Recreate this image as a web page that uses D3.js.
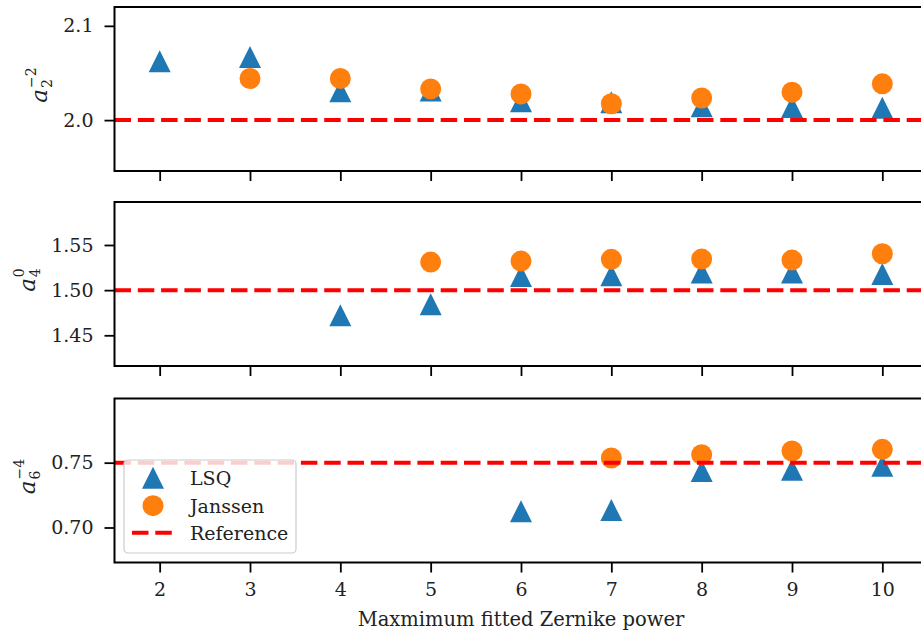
<!DOCTYPE html>
<html>
<head>
<meta charset="utf-8">
<script src="https://cdn.jsdelivr.net/npm/d3@7"></script>
<style>
  html, body { margin: 0; padding: 0; background: #fff; }
  svg { display: block; overflow: hidden; }
  text { font-family: "DejaVu Serif", serif; fill: #222; }
</style>
</head>
<body>
<svg id="chart" width="921" height="636"></svg>
<script>
// Maximum fitted Zernike power (shared x axis)
const powers = [2, 3, 4, 5, 6, 7, 8, 9, 10];

// Coefficient a_2^{-2}
const a2m2LSQ     = [2.0625, 2.0669, 2.0306, 2.0313, 2.0199, 2.0190, 2.0146, 2.0139, 2.0131];
const a2m2Janssen = [null,   2.0441, 2.0441, 2.0331, 2.0278, 2.0174, 2.0235, 2.0295, 2.0385];

// Coefficient a_4^{0}
const a40LSQ      = [null, null, 1.4722, 1.4844, 1.5157, 1.5165, 1.5194, 1.5194, 1.5178];
const a40Janssen  = [null, null, null,   1.5311, 1.5322, 1.5341, 1.5344, 1.5333, 1.5403];

// Coefficient a_6^{-4}
const a6m4LSQ     = [null, null, null, null, 0.7125, 0.7134, 0.7436, 0.7446, 0.7477];
const a6m4Janssen = [null, null, null, null, null,   0.7536, 0.7562, 0.7590, 0.7603];

// True coefficient values
const referenceValues = [2.0, 1.5, 0.75];

// Axis limits and ticks per panel
const yDomains = [[1.946, 2.120], [1.416, 1.5976], [0.673, 0.7995]];
const yTicks   = [[2.0, 2.1], [1.45, 1.50, 1.55], [0.70, 0.75]];
const yFormats = [".1f", ".2f", ".2f"];
const labelSub = ["2", "4", "6"];
const labelSup = ["\u22122", "0", "\u22124"];

const legendLabels = ["LSQ", "Janssen", "Reference"];
const xLabel = "Maxmimum fitted Zernike power";

const colors = { lsq: "#1f77b4", janssen: "#ff7f0e", ref: "#ff0000" };

const svg = d3.select("#chart");

const left = 114.5, right = 927.5;
const panelTops = [7, 202, 398.5];
const panelHeight = 164;
const markerSize = 22;

const x = d3.scaleLinear().domain([1.5, 10.5]).range([left, right]);

const panels = [
  { lsq: a2m2LSQ, jan: a2m2Janssen },
  { lsq: a40LSQ,  jan: a40Janssen },
  { lsq: a6m4LSQ, jan: a6m4Janssen }
];

function trianglePath(s) {
  const h = s / 2;
  return `M0,${-h}L${-h},${h}L${h},${h}Z`;
}

panels.forEach((p, i) => {
  const top = panelTops[i], bottom = top + panelHeight;
  const y = d3.scaleLinear().domain(yDomains[i]).range([bottom, top]);
  const g = svg.append("g");

  // clip to axes area
  const clipId = "clip" + i;
  svg.append("clipPath").attr("id", clipId)
    .append("rect").attr("x", left).attr("y", top)
    .attr("width", right - left).attr("height", panelHeight);

  const plot = g.append("g").attr("clip-path", `url(#${clipId})`);

  // LSQ triangles
  const lsqPts = powers.map((v, k) => ({ x: v, y: p.lsq[k] })).filter(d => d.y != null);
  plot.selectAll("path.lsq").data(lsqPts).join("path")
    .attr("class", "lsq")
    .attr("d", trianglePath(markerSize))
    .attr("transform", d => `translate(${x(d.x)},${y(d.y)})`)
    .attr("fill", colors.lsq);

  // Janssen circles
  const janPts = powers.map((v, k) => ({ x: v, y: p.jan[k] })).filter(d => d.y != null);
  plot.selectAll("circle.jan").data(janPts).join("circle")
    .attr("class", "jan")
    .attr("cx", d => x(d.x)).attr("cy", d => y(d.y))
    .attr("r", markerSize / 2 - 0.5)
    .attr("fill", colors.janssen);

  // Reference line
  plot.append("line")
    .attr("x1", left).attr("x2", right)
    .attr("y1", y(referenceValues[i])).attr("y2", y(referenceValues[i]))
    .attr("stroke", colors.ref).attr("stroke-width", 4)
    .attr("stroke-dasharray", "16.5,6.8");

  // y axis
  const yAxis = d3.axisLeft(y).tickValues(yTicks[i]).tickFormat(d3.format(yFormats[i]))
    .tickSize(10).tickPadding(11);
  const yg = g.append("g").attr("transform", `translate(${left},0)`).call(yAxis);
  yg.select(".domain").remove();
  yg.selectAll(".tick line").attr("stroke", "#000").attr("stroke-width", 1.8);
  yg.selectAll(".tick text").attr("font-size", 19).attr("font-family", "DejaVu Serif").attr("fill", "#222");

  // x axis
  const xAxis = d3.axisBottom(x).tickValues(powers).tickFormat(i === 2 ? d3.format("d") : () => "")
    .tickSize(10).tickPadding(10);
  const xg = g.append("g").attr("transform", `translate(0,${bottom})`).call(xAxis);
  xg.select(".domain").remove();
  xg.selectAll(".tick line").attr("stroke", "#000").attr("stroke-width", 1.8);
  xg.selectAll(".tick text").attr("font-size", 19).attr("font-family", "DejaVu Serif").attr("fill", "#222");

  // frame
  g.append("rect").attr("x", left).attr("y", top)
    .attr("width", right - left).attr("height", panelHeight)
    .attr("fill", "none").attr("stroke", "#000").attr("stroke-width", 2);

  // y label a_n^m, rotated
  const outer = g.append("g");
  const lab = outer.append("g");
  const t = lab.append("text").attr("x", 0).attr("y", 0)
    .attr("font-size", 23).attr("font-style", "italic").text("a");
  const aw = t.node().getComputedTextLength();
  lab.append("text").attr("x", aw + 1).attr("y", 5)
    .attr("font-size", 14).text(labelSub[i]);
  lab.append("text").attr("x", aw + 1).attr("y", -11)
    .attr("font-size", 14).text(labelSup[i]);
  lab.attr("transform", "rotate(-90)");
  const tickBox = yg.node().getBBox();
  const lb = outer.node().getBBox();
  const cy = (top + bottom) / 2 - 4;
  const dx = (left + tickBox.x) - 8 - (lb.x + lb.width);
  const dy = cy - (lb.y + lb.height / 2);
  outer.attr("transform", `translate(${dx},${dy})`);

  // legend in the bottom panel
  if (i === 2) {
    const lg = svg.append("g").attr("transform", "translate(124,460)");
    lg.append("rect").attr("width", 172).attr("height", 93).attr("rx", 4)
      .attr("fill", "#fff").attr("fill-opacity", 0.8)
      .attr("stroke", "#cccccc").attr("stroke-width", 1.2);
    const rows = [17.7, 45.7, 72.7];
    lg.append("path").attr("d", trianglePath(markerSize))
      .attr("transform", `translate(29,${rows[0]})`).attr("fill", colors.lsq);
    lg.append("circle").attr("cx", 29).attr("cy", rows[1]).attr("r", markerSize / 2 - 0.5)
      .attr("fill", colors.janssen);
    lg.append("line").attr("x1", 8).attr("x2", 48).attr("y1", rows[2]).attr("y2", rows[2])
      .attr("stroke", colors.ref).attr("stroke-width", 4).attr("stroke-dasharray", "16.5,6.8");
    lg.selectAll("text.leg").data(legendLabels).join("text")
      .attr("class", "leg")
      .attr("x", 66).attr("y", (d, k) => rows[k] + 7)
      .attr("font-size", 19).text(d => d);
  }
});

// x axis label
svg.append("text")
  .attr("x", (left + right) / 2).attr("y", 626)
  .attr("text-anchor", "middle").attr("font-size", 19.5)
  .text(xLabel);
</script>
</body>
</html>
